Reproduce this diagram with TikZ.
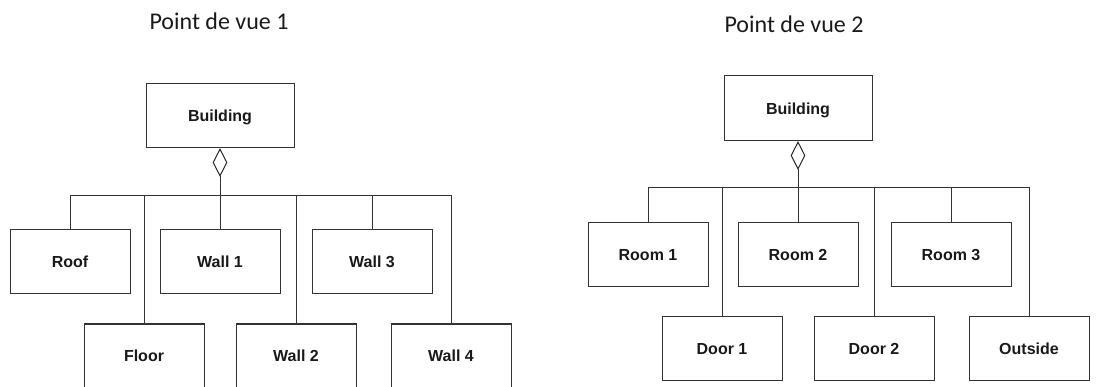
\documentclass[tikz,border=0pt]{standalone}
\usepackage{fontspec}
\setmainfont{Liberation Sans}
\newfontfamily\titlefont{Carlito}
\usetikzlibrary{shapes.geometric}
\tikzset{
  box/.style={draw=black!80, line width=1pt, rectangle, minimum width=120pt, minimum height=64pt, inner sep=0pt, text height=11.5pt, text depth=0pt, font=\fontsize{16}{18}\selectfont\bfseries, text=black!90},
  bigbox/.style={box, minimum width=148pt},
  agg/.style={draw=black!85, line width=1pt, diamond, shape aspect=0.5, minimum width=14pt, minimum height=27pt, inner sep=0pt, anchor=north, fill=white},
  link/.style={draw=black!80, line width=1pt},
  ttl/.style={font=\titlefont\fontsize{24}{28}\selectfont, anchor=base, text=black!90}
}
\begin{document}
\begin{tikzpicture}[x=1pt,y=-1pt]
\useasboundingbox (0,0) rectangle (1119,387);
% left view
\node[ttl] (t1) at (219,30) {Point de vue 1};
\node[bigbox] (bA) at (220,116) {Building};
\node[agg] (dA) at (bA.south) {};
\coordinate (busA) at (220,196);
\node[box] (roof) at (70,262) {Roof};
\node[box] (wall1) at (220,262) {Wall 1};
\node[box] (wall3) at (372,262) {Wall 3};
\node[box] (floor) at (144,356) {Floor};
\node[box] (wall2) at (296,356) {Wall 2};
\node[box] (wall4) at (451,356) {Wall 4};
\draw[link] (dA.south) -- (busA);
\foreach \n in {roof,wall1,wall3,floor,wall2,wall4}
  \draw[link] (\n.north) |- (busA);
% right view
\node[ttl] (t2) at (794,33) {Point de vue 2};
\node[bigbox, minimum height=65pt] (bB) at (798,108.5) {Building};
\node[agg] (dB) at (bB.south) {};
\coordinate (busB) at (798,187.5);
\node[box] (room1) at (648,254.5) {Room 1};
\node[box] (room2) at (798,254.5) {Room 2};
\node[box] (room3) at (951,254.5) {Room 3};
\node[box] (door1) at (722,348.5) {Door 1};
\node[box] (door2) at (874,348.5) {Door 2};
\node[box] (outside) at (1029,348.5) {Outside};
\draw[link] (dB.south) -- (busB);
\foreach \n in {room1,room2,room3,door1,door2,outside}
  \draw[link] (\n.north) |- (busB);
\end{tikzpicture}
\end{document}
